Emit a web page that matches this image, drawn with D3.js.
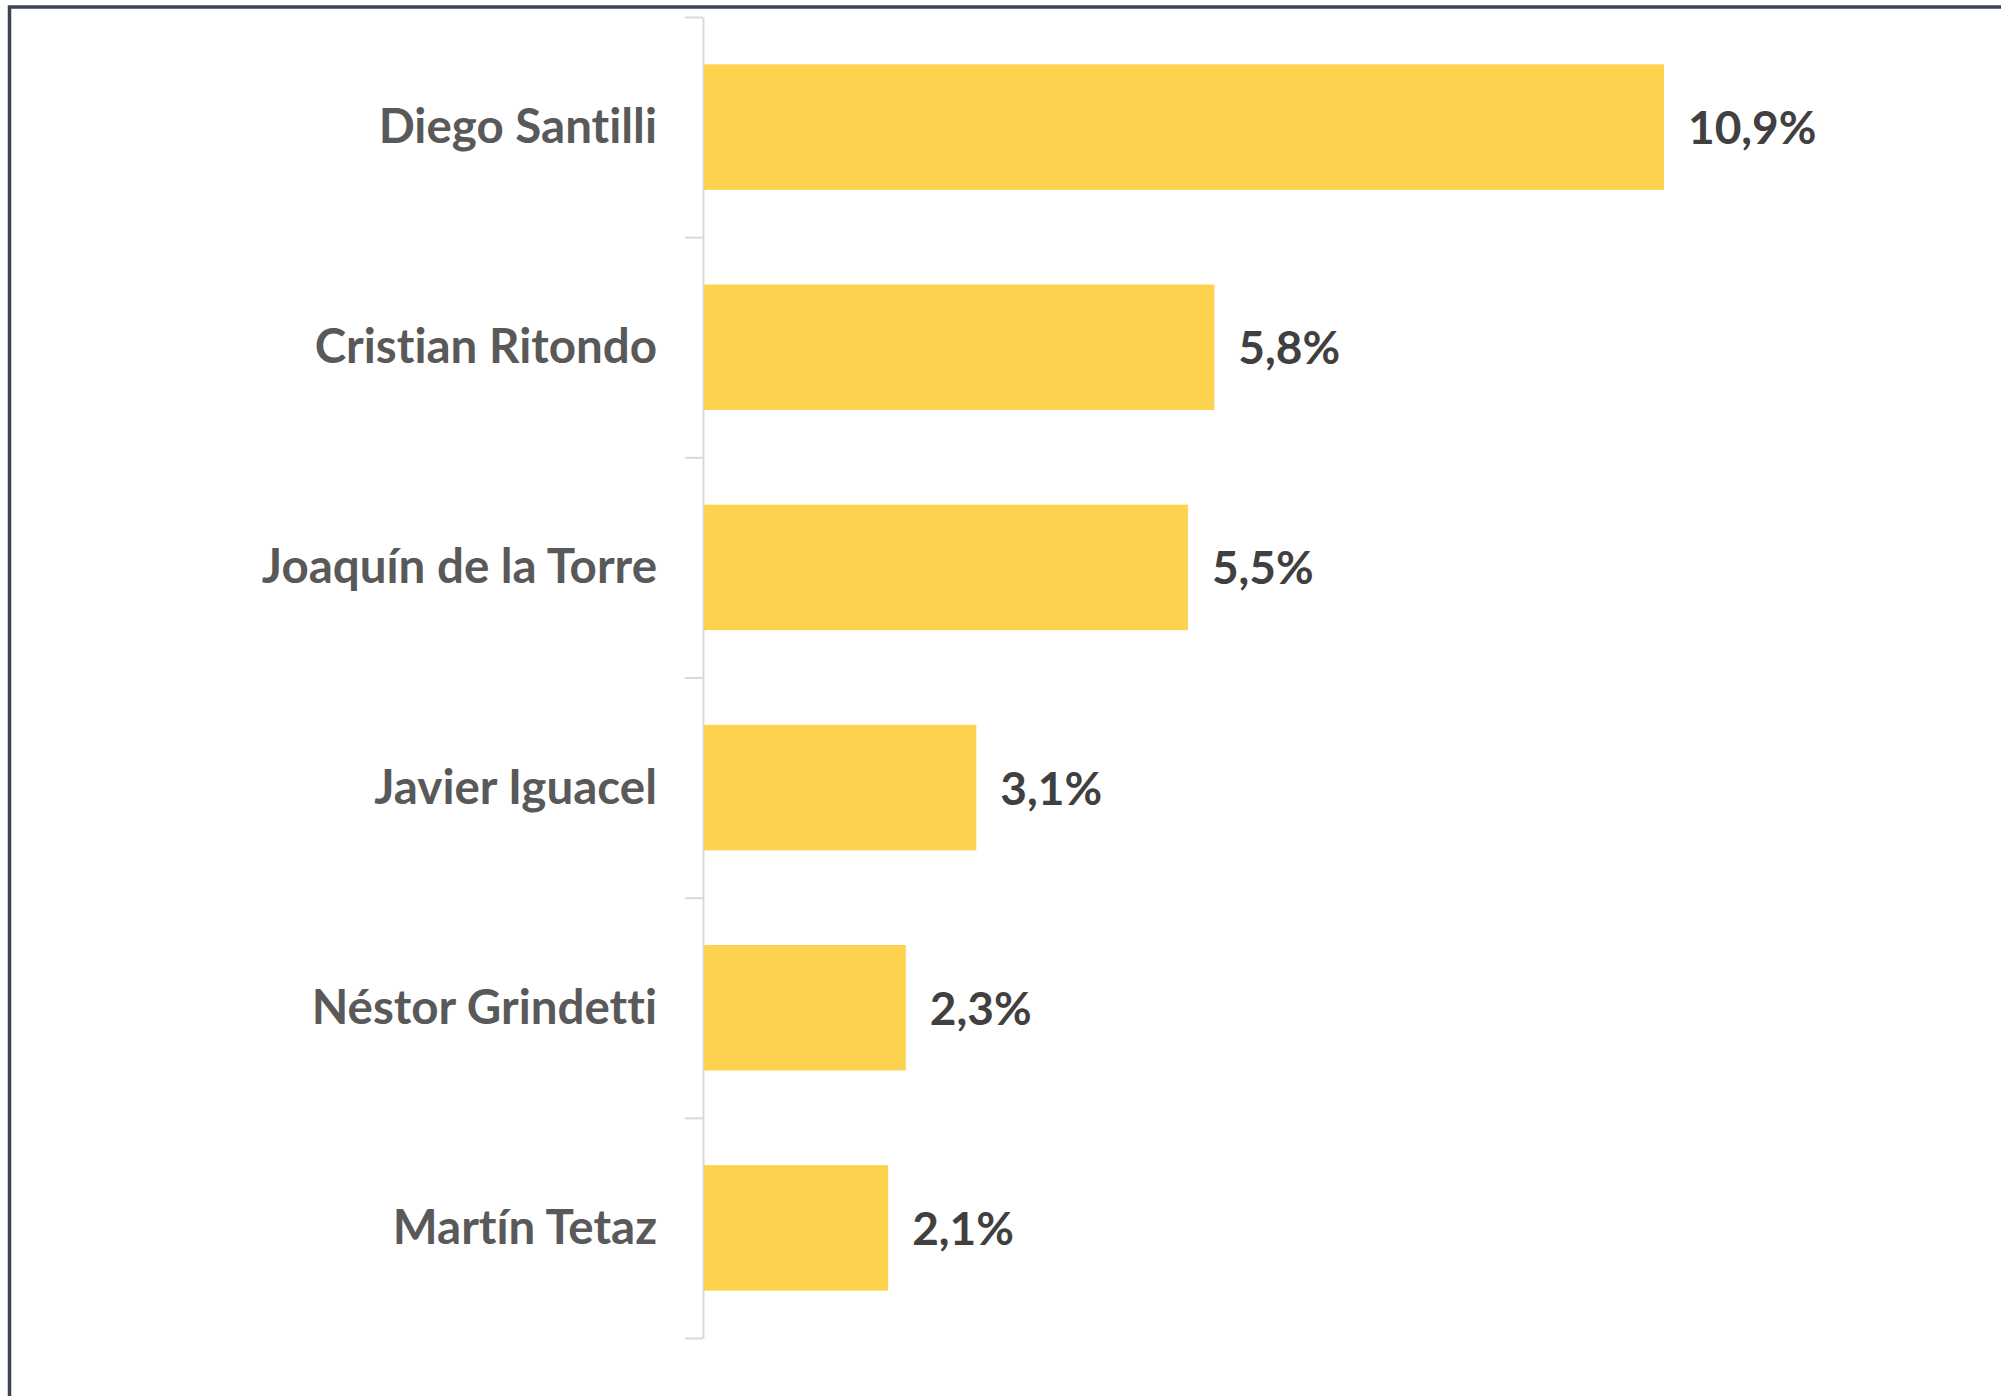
<!DOCTYPE html>
<html>
<head>
<meta charset="utf-8">
<script src="https://cdn.jsdelivr.net/npm/d3@7"></script>
<style>
    body { margin: 0; background: #fff; }
    .axis path, .axis line { stroke: #d9d9d9; stroke-width: 2px; }
    text { font-variant-ligatures: none; font-feature-settings: "liga" 0; }
</style>
</head>
<body>
<svg id="chart" width="2001" height="1396"></svg>
<script>
// data
var candidates = ["Diego Santilli", "Cristian Ritondo", "Joaquín de la Torre", "Javier Iguacel", "Néstor Grindetti", "Martín Tetaz"];
var shares = [10.9, 5.8, 5.5, 3.1, 2.3, 2.1];
var shareLabels = ["10,9%", "5,8%", "5,5%", "3,1%", "2,3%", "2,1%"];

var svg_width = 2001, svg_height = 1396;
var axis_x = 703, top_y = 17, bottom_y = 1338;

var svg = d3.select("#chart");

svg.append("rect")
    .attr("width", svg_width)
    .attr("height", svg_height)
    .attr("fill", "#fff");

// frame of the original picture (left and top edges only are visible)
svg.append("path")
    .attr("d", "M9.5," + svg_height + "V7H" + svg_width)
    .attr("fill", "none")
    .attr("stroke", "#3b4356")
    .attr("stroke-width", 3.5);

var yScale = d3.scaleBand()
    .domain(candidates)
    .range([top_y, bottom_y])
    .paddingInner(0.43)
    .paddingOuter(0.215);

// x: 0 at axis, 10.9 reaches 1664
var xScale = d3.scaleLinear()
    .domain([0, 10.9])
    .range([axis_x, 1664]);

// band boundaries for the tick marks
var edgeScale = d3.scaleLinear()
    .domain([0, candidates.length])
    .range([top_y, bottom_y]);

var yAxis = d3.axisLeft(edgeScale)
    .tickValues(d3.range(candidates.length + 1))
    .tickSize(18)
    .tickSizeOuter(0)
    .tickFormat("");

svg.append("g")
    .attr("class", "axis")
    .attr("transform", "translate(" + axis_x + ",0)")
    .call(yAxis);

svg.selectAll(".bar")
    .data(shares)
    .enter()
    .append("rect")
    .attr("class", "bar")
    .attr("x", xScale(0) + 1)
    .attr("y", function(d, i) { return yScale(candidates[i]); })
    .attr("width", function(d) { return xScale(d) - xScale(0) - 1; })
    .attr("height", yScale.bandwidth())
    .attr("fill", "#fdd24e");

var fontFamily = "Lato, 'Open Sans', sans-serif";

// category names
svg.selectAll(".name")
    .data(candidates)
    .enter()
    .append("text")
    .attr("class", "name")
    .attr("x", axis_x - 46)
    .attr("y", function(d) { return yScale(d) + yScale.bandwidth() / 2 + 16; })
    .attr("text-anchor", "end")
    .attr("font-family", fontFamily)
    .attr("font-size", "47.5px")
    .attr("font-weight", "bold")
    .attr("fill", "#595959")
    .text(function(d) { return d; });

// value labels
svg.selectAll(".value")
    .data(shares)
    .enter()
    .append("text")
    .attr("class", "value")
    .attr("x", function(d) { return xScale(d) + 24; })
    .attr("y", function(d, i) { return yScale(candidates[i]) + yScale.bandwidth() / 2 + 17; })
    .attr("font-family", fontFamily)
    .attr("font-size", "46px")
    .attr("font-weight", "bold")
    .attr("fill", "#404040")
    .text(function(d, i) { return shareLabels[i]; });
</script>
</body>
</html>
